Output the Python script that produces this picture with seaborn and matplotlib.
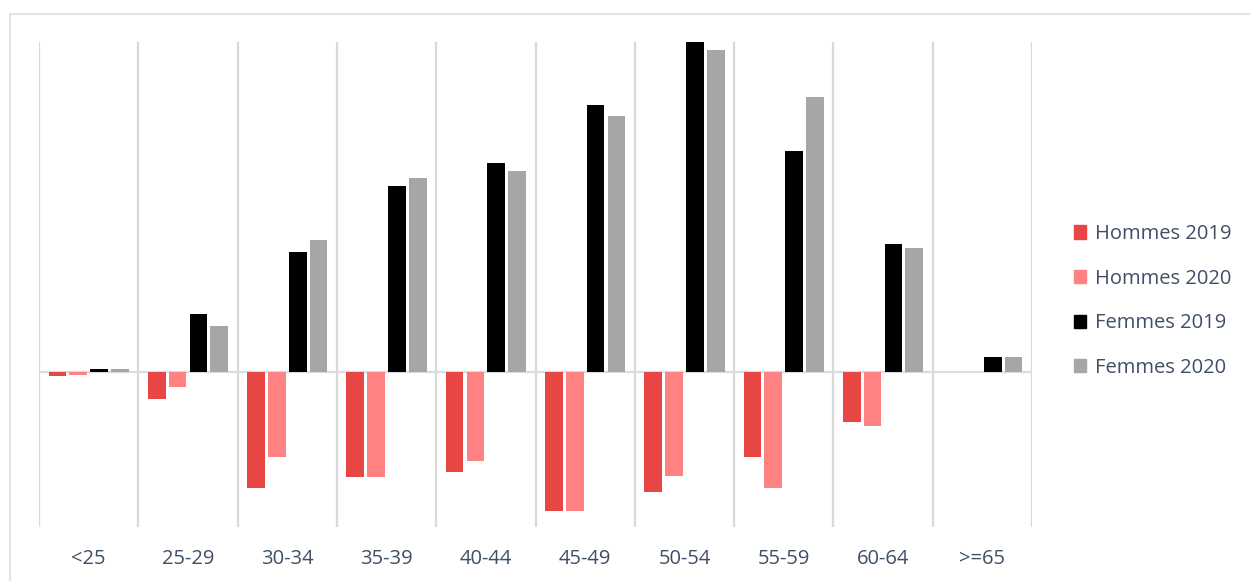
import seaborn as sns
import pandas as pd
import matplotlib.pyplot as plt
from matplotlib.patches import Rectangle

# data (arbitrary units, no y scale shown)
categories = ['<25', '25-29', '30-34', '35-39', '40-44', '45-49', '50-54', '55-59', '60-64', '>=65']
hommes_2019 = [-4, -27, -116, -105, -100, -139, -120, -85, -50, 0]
hommes_2020 = [-3, -15, -85, -105, -89, -139, -104, -116, -54, 0]
femmes_2019 = [3, 58, 120, 186, 209, 267, 330, 221, 128, 15]
femmes_2020 = [3, 46, 132, 194, 201, 256, 322, 275, 124, 15]

series = ['Hommes 2019', 'Hommes 2020', 'Femmes 2019', 'Femmes 2020']
colors = ['#e84545', '#ff8282', '#000000', '#a6a6a6']

sns.set_theme(style='white')
plt.rcParams['font.family'] = ['Open Sans', 'DejaVu Sans']
text_color = '#3f4f66'

# long-form table for seaborn
df = pd.DataFrame({
    'cat': categories * 4,
    'serie': [s for s in series for _ in categories],
    'val': hommes_2019 + hommes_2020 + femmes_2019 + femmes_2020,
})

fig = plt.figure(figsize=(12.5, 5.81), dpi=100)
ax = fig.add_axes([0.0312, 0.0929, 0.7944, 0.8348])

sns.barplot(df, x='cat', y='val', hue='serie', order=categories, hue_order=series,
            palette=colors, saturation=1, width=0.84, gap=0.15, linewidth=0,
            errorbar=None, ax=ax, legend=False, zorder=3)

ax.set_xlim(-0.5, len(categories) - 0.5)
ax.set_ylim(-155, 330)
ax.set_xlabel('')
ax.set_ylabel('')
ax.set_yticks([])
for s in ax.spines.values():
    s.set_visible(False)

# category separators and zero line
ax.set_xticks([i + 0.5 for i in range(-1, len(categories))], minor=True)
ax.grid(which='minor', axis='x', color='#d9d9d9', linewidth=1.6, zorder=0)
ax.axhline(0, color='#d9dde3', linewidth=1.6, zorder=1)
ax.tick_params(axis='x', which='both', length=0, pad=16, labelsize=14.5, labelcolor=text_color)

# legend on the right
handles = [Rectangle((0, 0), 1, 1, color=c) for c in colors]
fig.legend(handles, series, loc='center left', bbox_to_anchor=(0.851, 0.482),
           frameon=False, fontsize=14.5, labelcolor=text_color, handlelength=0.62,
           handleheight=0.62, handletextpad=0.42, labelspacing=1.22, borderpad=0)

# chart area frame
fig.patches.append(Rectangle((10 / 1250, -0.1), 1.1, (581 - 14) / 581 + 0.1,
                             transform=fig.transFigure, fill=False,
                             edgecolor='#dfe3e8', linewidth=1.5))

fig.savefig('out.png', dpi=100)
